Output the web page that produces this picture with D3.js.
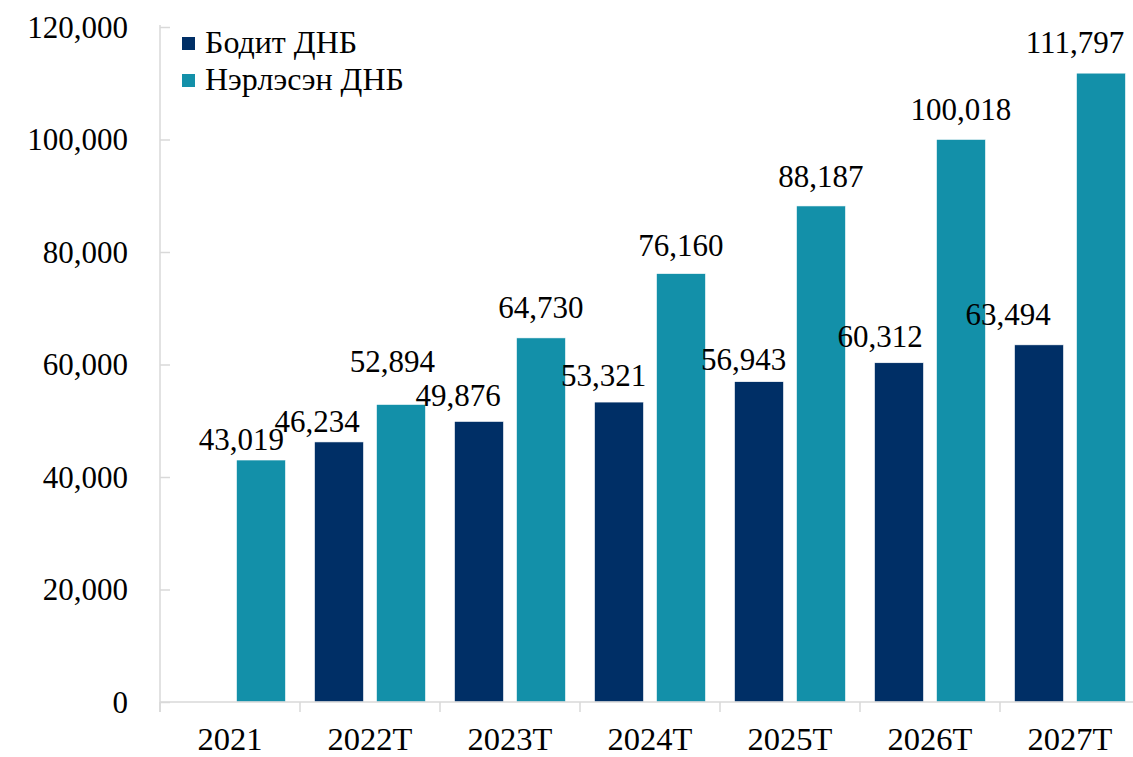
<!DOCTYPE html>
<html>
<head>
<meta charset="utf-8">
<script src="https://cdn.jsdelivr.net/npm/d3@7"></script>
<style>
  html, body { margin: 0; padding: 0; background: #ffffff; }
  svg { display: block; }
  text { font-family: "Liberation Serif", "DejaVu Serif", serif; fill: #000; }
</style>
</head>
<body>
<svg id="chart" width="1133" height="757"></svg>
<script>
// ---- data ----
const categories = ["2021", "2022T", "2023T", "2024T", "2025T", "2026T", "2027T"];
const seriesNames = ["Бодит ДНБ", "Нэрлэсэн ДНБ"];
const realGDP = [null, 46234, 49876, 53321, 56943, 60312, 63494];
const nominalGDP = [43019, 52894, 64730, 76160, 88187, 100018, 111797];
const yTicks = [0, 20000, 40000, 60000, 80000, 100000, 120000];

// ---- style / layout ----
const colors = ["#002F66", "#1390A9"];
const fontSize = 31;
// label nudges (px) to mimic the reference's hand-placed labels
const labelDx = [[0, -22, -21, -15.5, -15.5, -19, -31], [-19.5, -8.5, 0, 0, 0, 0, -26]];
const labelGap = [[0, 10, 15, 16, 12, 16, 20], [10, 32, 20, 18, 19, 19, 20]];

const svg = d3.select("#chart");
const x0 = d3.scaleBand().domain(categories).range([160, 1140]).paddingInner(0).paddingOuter(0);
const x1 = d3.scaleBand().domain([0, 1]).range([0, x0.bandwidth()]).paddingInner(13 / 62).paddingOuter(0.234);
const y = d3.scaleLinear().domain([0, 120000]).range([702, 27]);
const fmt = d3.format(",");

const seriesValues = [realGDP, nominalGDP];

// bars
seriesValues.forEach((vals, si) => {
  const data = categories.map((c, i) => ({ c, i, v: vals[i] })).filter(d => d.v != null);
  svg.append("g").selectAll("rect").data(data).join("rect")
    .attr("x", d => x0(d.c) + x1(si))
    .attr("y", d => y(d.v))
    .attr("width", x1.bandwidth())
    .attr("height", d => y(0) - y(d.v))
    .attr("fill", colors[si])
    .attr("stroke", "#ffffff")
    .attr("stroke-width", 0.6);
});

// axes
const axisColor = "#d9d9d9";
const yAxis = svg.append("g").attr("transform", "translate(160,0)")
  .call(d3.axisRight(y).tickValues(yTicks).tickSize(10).tickFormat(""));
yAxis.select(".domain").attr("stroke", axisColor).attr("stroke-width", 1.5).attr("d", `M0,${y(120000) - 2}V${y(0) + 10}`);
yAxis.selectAll(".tick line").attr("stroke", axisColor).attr("stroke-width", 1.5);

svg.append("g").selectAll("text").data(yTicks).join("text")
  .attr("x", 128).attr("y", d => y(d)).attr("dy", "0.35em")
  .attr("text-anchor", "end").attr("font-size", fontSize)
  .text(d => fmt(d));

const xAxis = svg.append("g").attr("transform", `translate(0,${y(0)})`);
xAxis.append("line").attr("x1", 160).attr("x2", 1140).attr("y1", 0).attr("y2", 0)
  .attr("stroke", axisColor).attr("stroke-width", 1.5);
const boundaries = categories.map(c => x0(c)).concat([x0.range()[1]]);
xAxis.selectAll("line.tk").data(boundaries).join("line").attr("class", "tk")
  .attr("x1", d => d).attr("x2", d => d).attr("y1", 0).attr("y2", 10)
  .attr("stroke", axisColor).attr("stroke-width", 1.5);
svg.append("g").selectAll("text").data(categories).join("text")
  .attr("x", d => x0(d) + x0.bandwidth() / 2).attr("y", 750)
  .attr("text-anchor", "middle").attr("font-size", 32.5)
  .text(d => d);

// data labels
seriesValues.forEach((vals, si) => {
  const data = categories.map((c, i) => ({ c, i, v: vals[i] })).filter(d => d.v != null);
  svg.append("g").selectAll("text").data(data).join("text")
    .attr("x", d => x0(d.c) + x1(si) + x1.bandwidth() / 2 + labelDx[si][d.i])
    .attr("y", d => y(d.v) - labelGap[si][d.i])
    .attr("text-anchor", "middle").attr("font-size", fontSize)
    .text(d => fmt(d.v));
});

// legend
const legend = svg.append("g");
seriesNames.forEach((name, i) => {
  const g = legend.append("g").attr("transform", `translate(182,${37 + i * 37})`);
  g.append("rect").attr("width", 13).attr("height", 13).attr("fill", colors[i]);
  g.append("text").attr("x", 23).attr("y", 16).attr("font-size", 32).text(name);
});
</script>
</body>
</html>
